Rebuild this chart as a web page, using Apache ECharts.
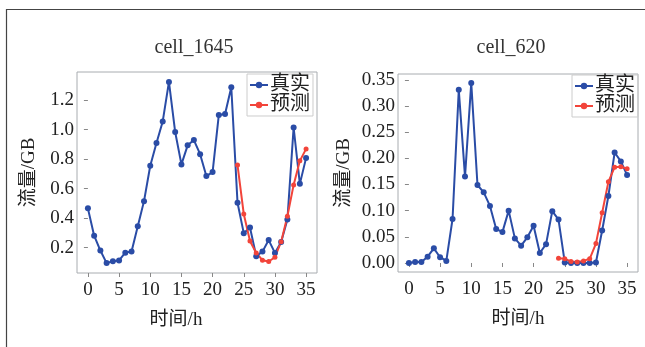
<!DOCTYPE html>
<html>
<head>
<meta charset="utf-8">
<script src="https://cdn.jsdelivr.net/npm/echarts@6/dist/echarts.min.js"></script>
<style>
  html, body { margin: 0; padding: 0; background: #fff; }
  #main { width: 645px; height: 347px; }
</style>
</head>
<body>
<div id="main"></div>
<script>
// hours 0..35
var hours = [];
for (var h = 0; h <= 35; h++) hours.push(h);
var predHours = hours.slice(24);

var xTicks = [0, 5, 10, 15, 20, 25, 30, 35];
var yTicksA = [0.2, 0.4, 0.6, 0.8, 1.0, 1.2];
var yTicksB = [0, 0.05, 0.1, 0.15, 0.2, 0.25, 0.3, 0.35];

// cell_1645
var realA = [0.466, 0.281, 0.180, 0.095, 0.108, 0.113, 0.166, 0.173, 0.345, 0.515,
             0.755, 0.909, 1.055, 1.323, 0.983, 0.764, 0.893, 0.929, 0.833, 0.685,
             0.712, 1.099, 1.106, 1.287, 0.504, 0.298, 0.336, 0.142, 0.173, 0.251,
             0.164, 0.238, 0.390, 1.014, 0.632, 0.808];
var predA = [0.759, 0.428, 0.245, 0.164, 0.115, 0.106, 0.135, 0.240, 0.413, 0.625, 0.788, 0.869];

// cell_620
var realB = [0.000, 0.002, 0.002, 0.012, 0.028, 0.011, 0.004, 0.084, 0.331, 0.165,
             0.344, 0.149, 0.135, 0.109, 0.065, 0.059, 0.100, 0.047, 0.033, 0.049,
             0.071, 0.019, 0.036, 0.099, 0.083, 0.001, 0.000, 0.000, 0.000, 0.000,
             0.001, 0.062, 0.128, 0.211, 0.194, 0.168];
var predB = [0.009, 0.008, 0.003, 0.002, 0.004, 0.008, 0.037, 0.096, 0.155, 0.183, 0.184, 0.180];

var FONT = "'Liberation Serif', 'Noto Sans CJK SC', serif";
var BLUE = '#2a4ca6';
var RED = '#f2443a';

function pairs(xs, ys) {
    return xs.map(function (x, i) { return [x, ys[i]]; });
}

function xAxis(idx, shift) {
    return {
        type: 'value', gridIndex: idx, min: -1.75, max: 36.75,
        name: '时间/h', nameLocation: 'middle', nameGap: 38,
        nameTextStyle: { fontFamily: FONT, fontSize: 19, color: '#222', padding: [0, shift, 0, 0] },
        axisLine: { show: false },
        axisTick: { show: true, length: 4, lineStyle: { color: '#888' }, customValues: xTicks },
        axisLabel: { fontFamily: FONT, fontSize: 19, color: '#222', margin: 8, customValues: xTicks },
        splitLine: { show: false }
    };
}

function yAxis(idx, min, max, ticks, digits, gap) {
    return {
        type: 'value', gridIndex: idx, min: min, max: max,
        name: '流量/GB', nameLocation: 'middle', nameGap: gap, nameRotate: 90,
        nameTextStyle: { fontFamily: FONT, fontSize: 19, color: '#222' },
        axisLine: { show: false },
        axisTick: { show: true, length: 4, lineStyle: { color: '#888' }, customValues: ticks },
        axisLabel: {
            fontFamily: FONT, fontSize: 19, color: '#222', margin: 3, customValues: ticks,
            formatter: function (v) { return v.toFixed(digits); }
        },
        splitLine: { show: false }
    };
}

function lineSeries(name, idx, xs, ys, color, size) {
    return {
        name: name, type: 'line', xAxisIndex: idx, yAxisIndex: idx,
        data: pairs(xs, ys), symbol: 'circle', symbolSize: size,
        itemStyle: { color: color }, lineStyle: { color: color, width: 2 },
        animation: false
    };
}

function legend(left, top) {
    return {
        data: ['真实', '预测'], orient: 'vertical', left: left, top: top,
        itemGap: 0, itemWidth: 18, itemHeight: 8, padding: [1, 3, 1, 2],
        borderColor: '#ccc', borderWidth: 1,
        textStyle: { fontFamily: FONT, fontSize: 20, color: '#222', padding: [0, 0, 0, -3] },
        selectedMode: false
    };
}

var chart = echarts.init(document.getElementById('main'));
chart.setOption({
    backgroundColor: '#fff',
    title: [
        { text: 'cell_1645', left: 189, top: 33, textAlign: 'center',
          textStyle: { fontFamily: FONT, fontSize: 20, fontWeight: 'normal', color: '#333' } },
        { text: 'cell_620', left: 506, top: 33, textAlign: 'center',
          textStyle: { fontFamily: FONT, fontSize: 20, fontWeight: 'normal', color: '#333' } }
    ],
    legend: [legend(247, 74), legend(572, 75)],
    grid: [
        { left: 77, top: 72, width: 240, height: 201, show: true, borderColor: '#a8acb0', borderWidth: 1 },
        { left: 398, top: 74, width: 240, height: 198, show: true, borderColor: '#a8acb0', borderWidth: 1 }
    ],
    xAxis: [xAxis(0, 42), xAxis(1, 0)],
    yAxis: [
        yAxis(0, 0.028, 1.39, yTicksA, 1, 38),
        yAxis(1, -0.0172, 0.361, yTicksB, 2, 44)
    ],
    series: [
        lineSeries('真实', 0, hours, realA, BLUE, 6),
        lineSeries('预测', 0, predHours, predA, RED, 5),
        lineSeries('真实', 1, hours, realB, BLUE, 6),
        lineSeries('预测', 1, predHours, predB, RED, 5)
    ],
    graphic: [
        { type: 'rect', shape: { x: 6.5, y: 9.5, width: 700, height: 400 },
          style: { fill: 'none', stroke: '#444', lineWidth: 1.2 }, silent: true }
    ]
});
</script>
</body>
</html>
